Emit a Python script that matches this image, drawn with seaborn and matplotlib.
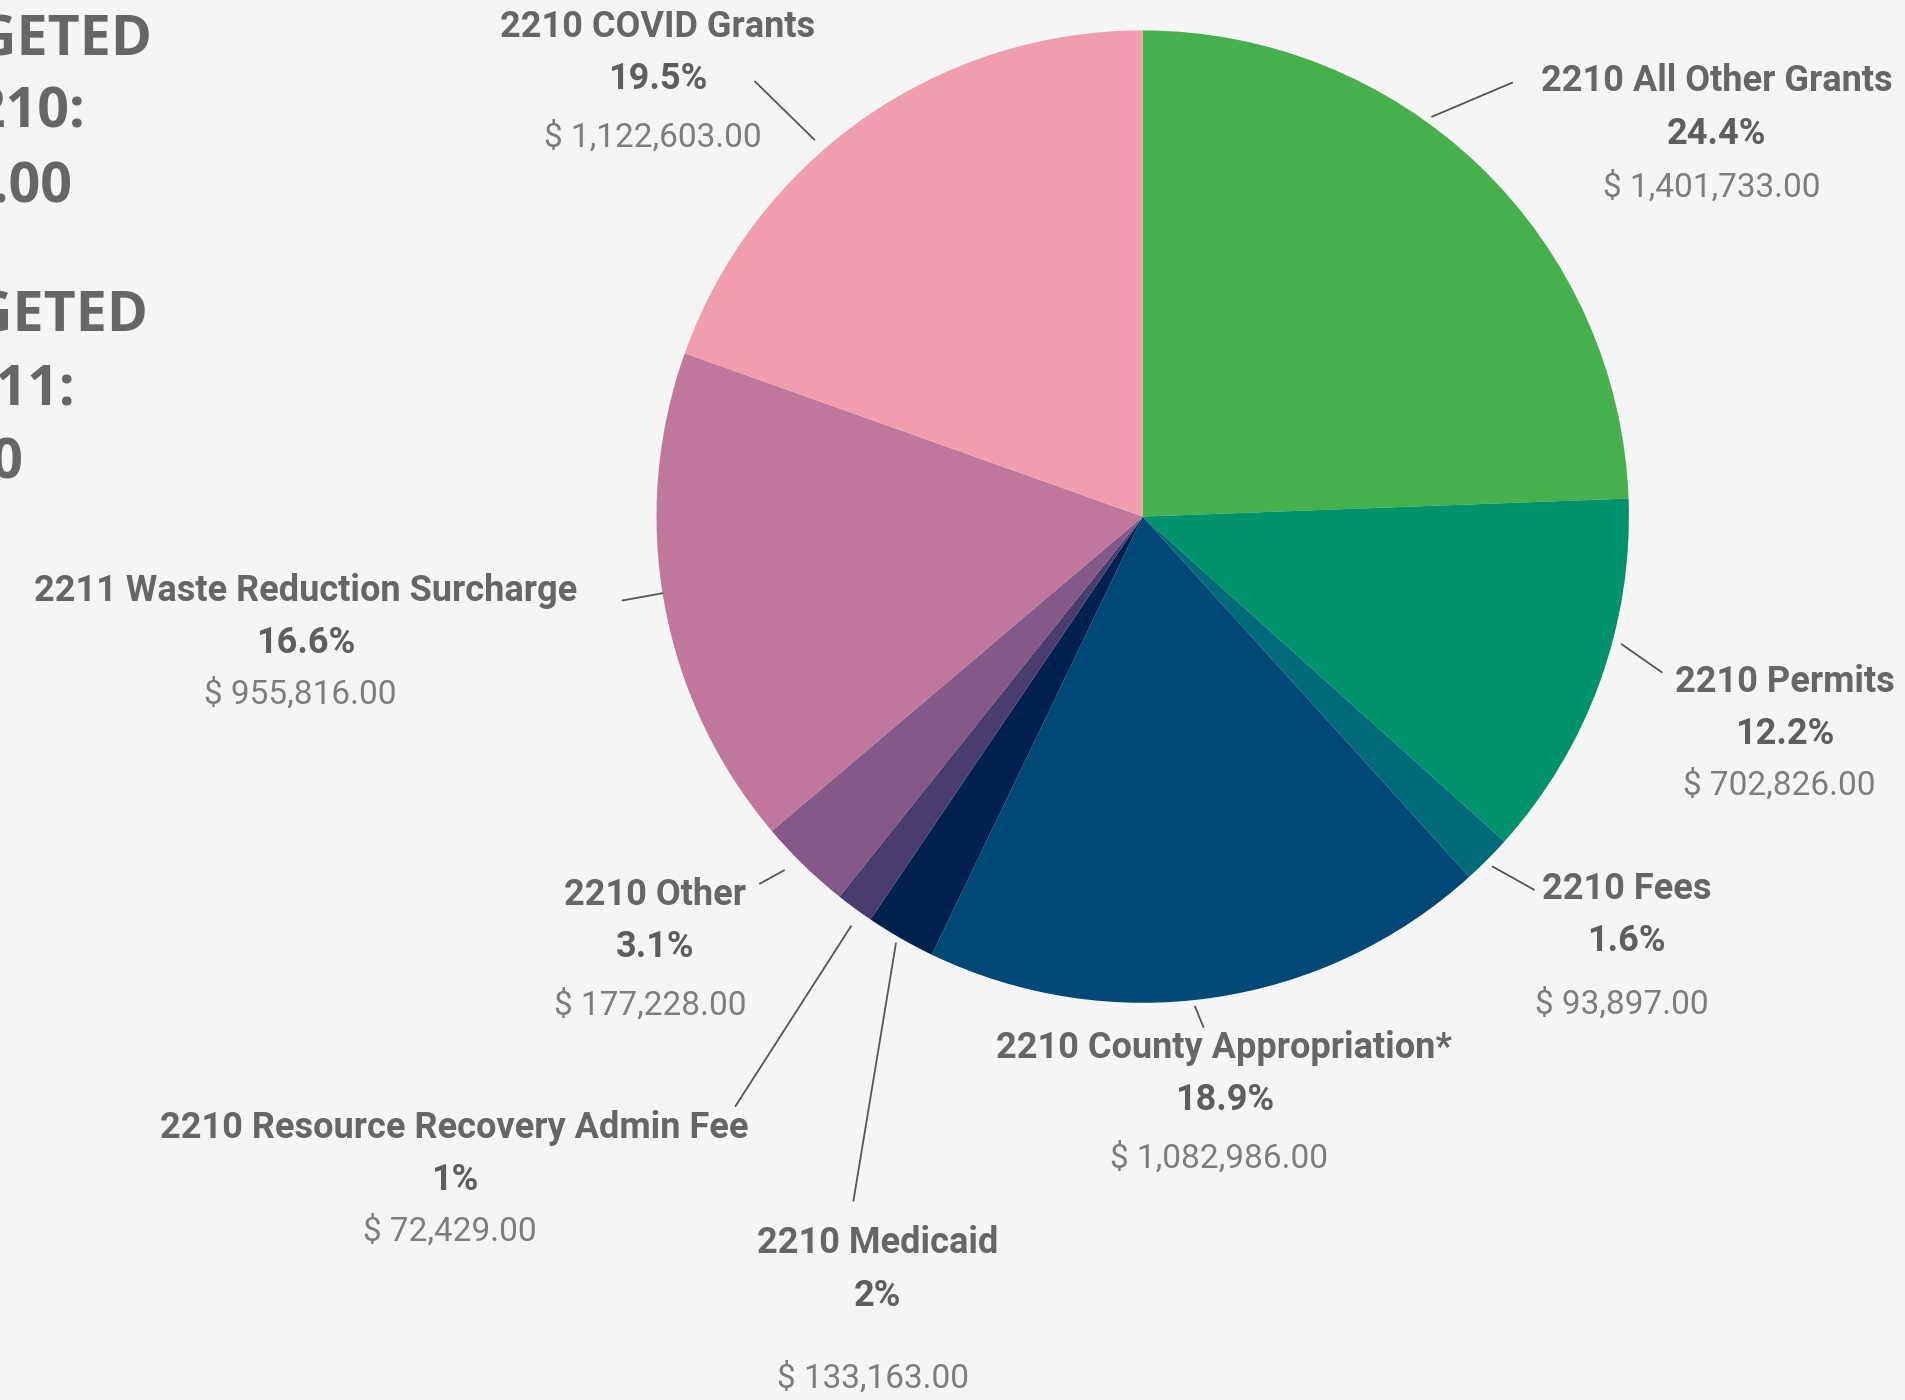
import numpy as np
import pandas as pd
import seaborn as sns
from matplotlib import pyplot as plt

# budget sources, clockwise from 12 o'clock
sources = ['2210 All Other Grants', '2210 Permits', '2210 Fees',
           '2210 County Appropriation*', '2210 Medicaid',
           '2210 Resource Recovery Admin Fee', '2210 Other',
           '2211 Waste Reduction Surcharge', '2210 COVID Grants']
amounts = [1401733, 702826, 93897, 1082986, 133163, 72429, 177228, 955816, 1122603]
pct_labels = ['24.4%', '12.2%', '1.6%', '18.9%', '2%', '1%', '3.1%', '16.6%', '19.5%']
slice_colors = ['#45b04c', '#00936b', '#006a78', '#004876', '#00214e',
                '#4a3c6e', '#845888', '#bf789c', '#f09db0']

sidebar_lines = ['TOTAL BUDGETED', 'FUND 2210:', '$4,786,865.00',
                 'TOTAL BUDGETED', 'FUND 2211:', '$955,816.00']

df = pd.DataFrame({'source': sources, 'amount': amounts, 'pct': pct_labels})

sns.set_theme(style='white')
plt.rcParams['font.family'] = ['Roboto', 'DejaVu Sans']

bg = '#f5f5f5'
fig = plt.figure(figsize=(19.06, 14), dpi=100, facecolor=bg)
ax = fig.add_axes([0, 0, 1, 1])
ax.set_facecolor(bg)

ax.pie(df['amount'], colors=sns.color_palette(slice_colors), startangle=90,
       counterclock=False, radius=1, center=(0, 0),
       wedgeprops=dict(linewidth=0))

# pie centre at (1142.7, 516.6) px, radius 486.2 px
R = 486.2
cx, cy = 1142.7, 516.6
ax.set_xlim(-cx / R, (1906 - cx) / R)
ax.set_ylim(-(1400 - cy) / R, cy / R)
ax.set_aspect('auto')
ax.axis('off')

# label layout: name centre (x, y), gap to value line, leader line ends
layout = [
    ((1.18, 0.895), 0.11, (0.595, 0.8225), (0.76, 0.8925)),
    ((1.32, -0.34), 0.105, (0.985, -0.2625), (1.0675, -0.32)),
    ((0.995, -0.765), 0.13, (0.72, -0.72), (0.805, -0.7675)),
    ((0.1675, -1.0925), 0.12, (0.1075, -1.0075), (0.125, -1.05)),
    ((-0.545, -1.495), 0.17, (-0.5075, -0.8775), (-0.595, -1.4075)),
    ((-1.415, -1.2575), 0.105, (-0.6, -0.8425), (-0.8375, -1.2125)),
    ((-1.0025, -0.7775), 0.12, (-0.7375, -0.7275), (-0.7875, -0.755)),
    ((-1.7225, -0.1525), 0.105, (-0.9875, -0.1575), (-1.07, -0.1725)),
    ((-0.998, 1.0075), 0.12, (-0.675, 0.775), (-0.7975, 0.895)),
]

fs = 26
for i, row in df.iterrows():
    (lx, ly), vgap, p0, p1 = layout[i]
    ax.text(lx, ly, row['source'], ha='center', va='center', fontsize=fs,
            fontweight='bold', color='#666666')
    ax.text(lx, ly - 0.1075, row['pct'], ha='center', va='center', fontsize=fs,
            fontweight='bold', color='#5e5e5e')
    ax.text(lx - 0.01, ly - 0.1075 - vgap, f"$ {row['amount']:,.2f}", ha='center',
            va='center', fontsize=24, fontweight='normal', color='#7d7d7d')
    ax.plot([p0[0], p1[0]], [p0[1], p1[1]], color='#555555', lw=1.3)

# sidebar text, clipped by the left edge as in the source image
ends = [152, 85, 73, 148, 75, 24]
bases = [55, 128, 202, 332, 405, 478]
for txt, xe, yb in zip(sidebar_lines, ends, bases):
    fig.text(xe / 1906, 1 - yb / 1400, txt, ha='right', va='baseline',
             fontsize=40, fontweight='bold', color='#666666',
             family=['Open Sans', 'DejaVu Sans'])

fig.savefig('out.png', dpi=100, facecolor=bg)
